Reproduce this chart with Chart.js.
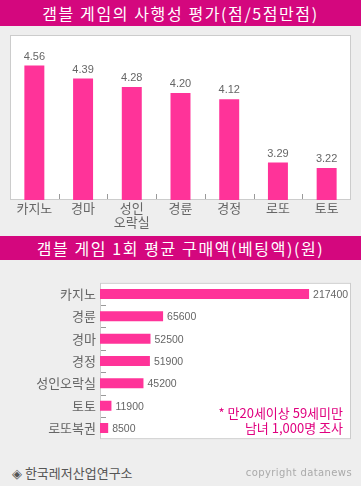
<!DOCTYPE html>
<html><head><meta charset="utf-8">
<script src="https://cdn.jsdelivr.net/npm/chart.js@4/dist/chart.umd.min.js"></script>
<style>
html,body{margin:0;padding:0;background:#eeeeee;}
#wrap{position:relative;width:361px;height:486px;overflow:hidden;background:#eeeeee;font-family:"Noto Sans CJK KR",sans-serif;}
.tbar{position:absolute;left:0;width:361px;background:#D4077E;color:#fff;text-align:center;font-size:16px;letter-spacing:1.6px;white-space:nowrap;}
#t1{top:0;height:26px;line-height:26px;}
#t2{top:236px;height:24px;line-height:24px;}
#c1w{position:absolute;left:10px;top:35px;width:341px;height:201px;}
#c2w{position:absolute;left:0;top:271px;width:351px;height:180px;}
#note{position:absolute;right:18px;top:405px;text-align:right;color:#E0007F;font-size:13px;line-height:15px;white-space:nowrap;}
#src{position:absolute;left:12px;top:463px;color:#555;font-size:13px;white-space:nowrap;}
#copy{position:absolute;right:9px;top:467px;color:#aaa;font-family:"DejaVu Sans",sans-serif;font-size:10px;letter-spacing:0.4px;white-space:nowrap;}
</style>
</head>
<body>
<div id="wrap">
  <div class="tbar" id="t1">갬블 게임의 사행성 평가(점/5점만점)</div>
  <div id="c1w"><canvas id="c1" width="341" height="201"></canvas></div>
  <div class="tbar" id="t2">갬블 게임 1회 평균 구매액(베팅액)(원)</div>
  <div id="c2w"><canvas id="c2" width="351" height="180"></canvas></div>
  <div id="note">* 만20세이상 59세미만<br>남녀 1,000명 조사</div>
  <div id="src">◈ 한국레저산업연구소</div>
  <div id="copy">copyright datanews</div>
</div>
<script>
const riskCategories = ['카지노', '경마', ['성인', '오락실'], '경륜', '경정', '로또', '토토'];
const riskScores = [4.56, 4.39, 4.28, 4.20, 4.12, 3.29, 3.22];
const spendCategories = ['카지노', '경륜', '경마', '경정', '성인오락실', '토토', '로또복권'];
const spendWon = [217400, 65600, 52500, 51900, 45200, 11900, 8500];

const PINK = '#FF3399';
const KFONT = '"Noto Sans CJK KR", sans-serif';

const boxPlugin = {
  id: 'box',
  beforeDraw(chart) {
    const {ctx, chartArea: a} = chart;
    ctx.save();
    ctx.fillStyle = '#ffffff';
    ctx.fillRect(a.left, a.top, a.right - a.left, a.bottom - a.top);
    ctx.strokeStyle = '#cccccc';
    ctx.lineWidth = 1;
    ctx.strokeRect(a.left + 0.5, a.top + 0.5, a.right - a.left - 1, a.bottom - a.top - 1);
    ctx.restore();
  }
};

// small inward tick marks between categories, positioned from the category scale
const innerTicks = {
  id: 'innerTicks',
  afterDraw(chart, args, opts) {
    const {ctx, chartArea: a} = chart;
    const scale = chart.scales[opts.axis];
    const n = scale.ticks.length;
    ctx.save();
    ctx.strokeStyle = opts.color;
    ctx.lineWidth = 1;
    ctx.beginPath();
    for (let i = 1; i < n; i++) {
      const p = Math.round((scale.getPixelForTick(i - 1) + scale.getPixelForTick(i)) / 2) + 0.5;
      if (opts.axis === 'x') {
        ctx.moveTo(p, a.bottom - 1);
        ctx.lineTo(p, a.bottom - 1 - opts.len);
      } else {
        ctx.moveTo(a.left + 1, p);
        ctx.lineTo(a.left + 1 + opts.len, p);
      }
    }
    ctx.stroke();
    ctx.restore();
  }
};

const valuePlugin = {
  id: 'vals',
  afterDatasetsDraw(chart, args, opts) {
    const {ctx} = chart;
    const meta = chart.getDatasetMeta(0);
    const data = chart.data.datasets[0].data;
    ctx.save();
    ctx.font = opts.font;
    ctx.fillStyle = opts.color;
    meta.data.forEach((el, i) => {
      const txt = opts.horizontal ? String(data[i]) : data[i].toFixed(2);
      if (opts.horizontal) {
        ctx.textAlign = 'left';
        ctx.textBaseline = 'middle';
        ctx.fillText(txt, el.x + opts.offset, el.y + 1);
      } else {
        ctx.textAlign = 'center';
        ctx.textBaseline = 'alphabetic';
        ctx.fillText(txt, el.x, el.y - opts.offset);
      }
    });
    ctx.restore();
  }
};

Chart.register(boxPlugin, valuePlugin, innerTicks);

new Chart(document.getElementById('c1'), {
  type: 'bar',
  data: {
    labels: riskCategories,
    datasets: [{data: riskScores, backgroundColor: PINK, borderWidth: 0, barPercentage: 0.41, categoryPercentage: 1}]
  },
  options: {
    responsive: false,
    animation: false,
    layout: {padding: 0},
    plugins: {
      legend: {display: false},
      tooltip: {enabled: false},
      vals: {font: '11px "Liberation Sans", sans-serif', color: '#666', offset: 6, horizontal: false},
      innerTicks: {axis: 'x', len: 5, color: '#999'}
    },
    scales: {
      x: {
        offset: true,
        grid: {display: false, drawTicks: false},
        border: {display: false},
        ticks: {color: '#666', font: {family: KFONT, size: 13, lineHeight: 1.1}, padding: 1, maxRotation: 0, autoSkip: false},
        afterFit(s) { s.height = 36; }
      },
      y: {display: false, min: 2.8, max: 4.96}
    }
  }
});

new Chart(document.getElementById('c2'), {
  type: 'bar',
  data: {
    labels: spendCategories,
    datasets: [{data: spendWon, backgroundColor: PINK, borderWidth: 0, barPercentage: 0.45, categoryPercentage: 1}]
  },
  options: {
    indexAxis: 'y',
    responsive: false,
    animation: false,
    layout: {padding: 0},
    plugins: {
      legend: {display: false},
      tooltip: {enabled: false},
      vals: {font: '10.5px "Liberation Sans", sans-serif', color: '#666', offset: 4, horizontal: true},
      innerTicks: {axis: 'y', len: 5, color: '#999'}
    },
    scales: {
      x: {display: false, min: 0, max: 261000},
      y: {
        offset: true,
        grid: {display: false, drawTicks: false},
        border: {display: false},
        ticks: {color: '#666', font: {family: KFONT, size: 13}, padding: 4, autoSkip: false},
        afterFit(s) { s.width = 100; }
      }
    }
  }
});
</script>
</body></html>
